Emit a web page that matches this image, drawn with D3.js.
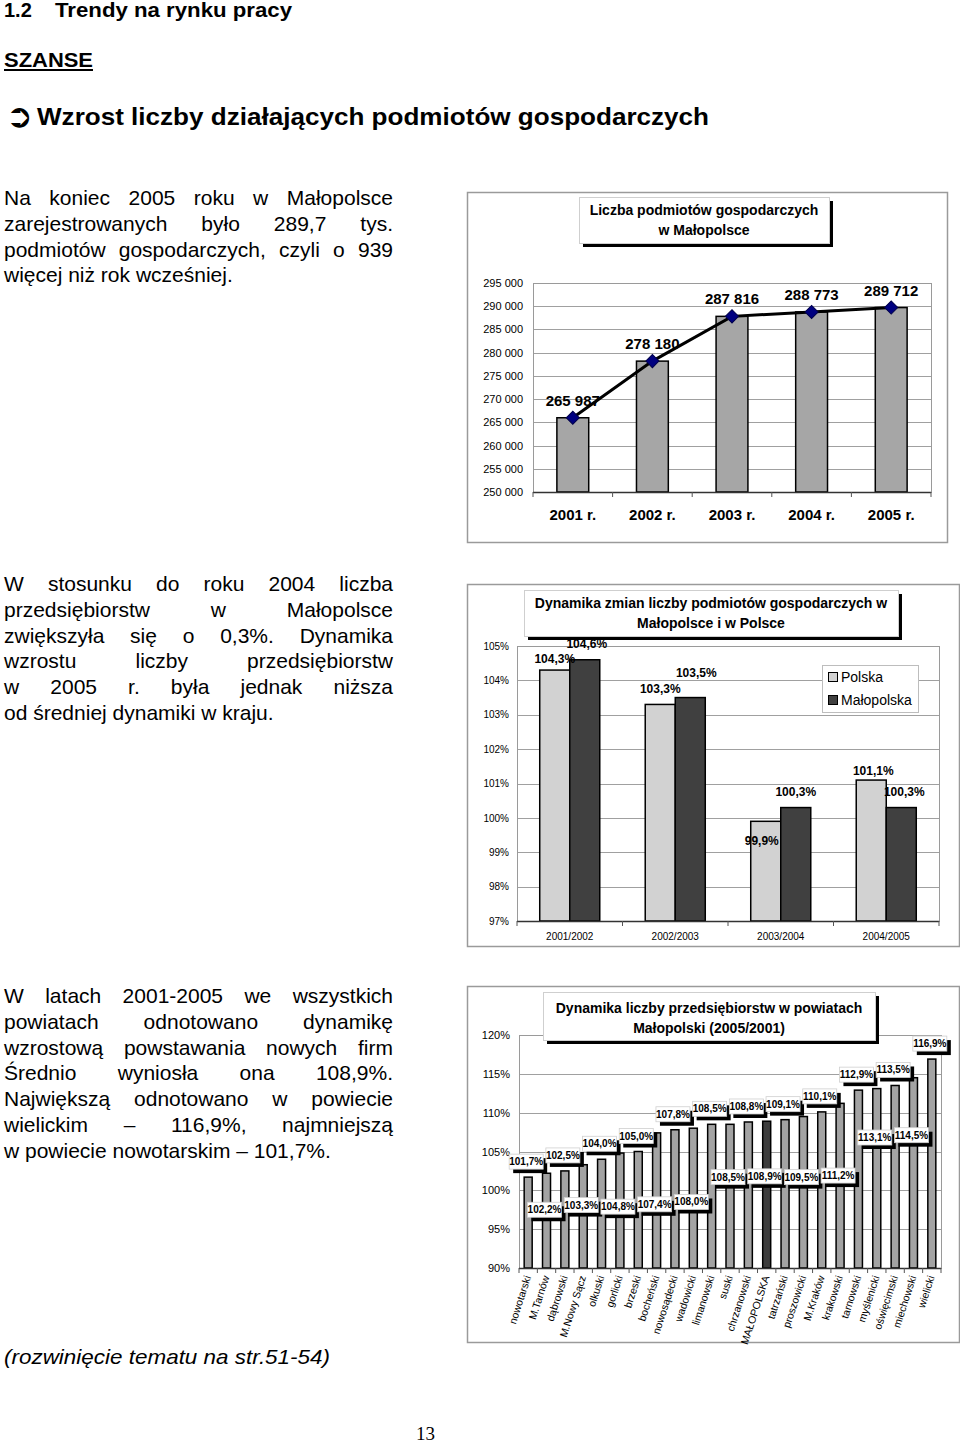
<!DOCTYPE html>
<html>
<head>
<meta charset="utf-8">
<script src="https://cdn.jsdelivr.net/npm/d3@7"></script>
<style>
body { margin: 0; background: #fff; }
#page { position: relative; width: 960px; height: 1444px; overflow: hidden; font-family: "Liberation Sans", Arial, sans-serif; color: #000; }
#page svg { position: absolute; left: 0; top: 0; }
.para { position: absolute; left: 4px; width: 389px; font-size: 21px; line-height: 25.8px; }
.para div { text-align: justify; text-align-last: justify; }
.para div.last { text-align-last: left; }
</style>
</head>
<body>
<div id="page"></div>
<script>
// --- data ---------------------------------------------------------------

// chart 1: liczba podmiotow
var years = ["2001 r.", "2002 r.", "2003 r.", "2004 r.", "2005 r."];
var firms = [265987, 278180, 287816, 288773, 289712];
var firmTicks = [250000, 255000, 260000, 265000, 270000, 275000, 280000, 285000, 290000, 295000];

// chart 2: dynamika Polska / Malopolska
var periods = ["2001/2002", "2002/2003", "2003/2004", "2004/2005"];
var seriesNames = ["Polska", "Małopolska"];
var polska = [104.3, 103.3, 99.9, 101.1];
var malopolska = [104.6, 103.5, 100.3, 100.3];
var pctTicks2 = [97, 98, 99, 100, 101, 102, 103, 104, 105];

// chart 3: powiaty
var powiaty = ["nowotarski", "M.Tarnów", "dąbrowski", "M.Nowy Sącz", "olkuski", "gorlicki", "brzeski",
  "bocheński", "nowosądecki", "wadowicki", "limanowski", "suski", "chrzanowski", "MAŁOPOLSKA",
  "tatrzański", "proszowicki", "M.Kraków", "krakowski", "tarnowski", "myślenicki", "oświęcimski",
  "miechowski", "wielicki"];
var dynamika = [101.7, 102.2, 102.5, 103.3, 104.0, 104.8, 105.0, 107.4, 107.8, 108.0, 108.5, 108.5,
  108.8, 108.9, 109.1, 109.5, 110.1, 111.2, 112.9, 113.1, 113.5, 114.5, 116.9];
var pctTicks3 = [90, 95, 100, 105, 110, 115, 120];

// where excel dropped the lower labels (in % units), odd bars only
var lowLabelAt = [97.5, 98.1, 97.9, 98.2, 98.5, 101.7, 101.8, 101.7, 101.9, 106.8, 107.1];
// label nudges for chart 2 [dx, dy from bar top]
var nudge2 = {
  "Polska": [[0, -11], [0, -15], [-4, 20], [2, -9]],
  "Małopolska": [[2, -16], [6, -25], [0, -16], [3, -16]]
};

// --- text ---------------------------------------------------------------

var para1 = ["Na koniec 2005 roku w Małopolsce", "zarejestrowanych było 289,7 tys.",
  "podmiotów gospodarczych, czyli o 939", "więcej niż rok wcześniej."];
var para2 = ["W stosunku do roku 2004 liczba", "przedsiębiorstw w Małopolsce",
  "zwiększyła się o 0,3%. Dynamika", "wzrostu liczby przedsiębiorstw",
  "w 2005 r. była jednak niższa", "od średniej dynamiki w kraju."];
var para3 = ["W latach 2001-2005 we wszystkich", "powiatach odnotowano dynamikę",
  "wzrostową powstawania nowych firm", "Średnio wyniosła ona 108,9%.",
  "Największą odnotowano w powiecie", "wielickim – 116,9%, najmniejszą",
  "w powiecie nowotarskim – 101,7%."];

var pl = d3.formatLocale({decimal: ",", thousands: " ", grouping: [3], currency: ["", " zł"]});
var fmtInt = pl.format(",d");
var fmtPct1 = function(v) { return pl.format(".1f")(v) + "%"; };
var fmtPct0 = function(v) { return v + "%"; };

var page = d3.select("#page");
var svg = page.append("svg").attr("width", 960).attr("height", 1444);

drawHeader();
addPara(para1, 185);
addPara(para2, 571);
addPara(para3, 983);
drawFirms();
drawDynamics();
drawPowiaty();

function addPara(lines, top) {
  var p = page.append("div").attr("class", "para").style("top", top + "px");
  p.selectAll("div").data(lines).enter().append("div")
    .attr("class", function(d, i) { return i == lines.length - 1 ? "last" : null; })
    .text(function(d) { return d; });
}

function drawHeader() {
  var h = svg.append("g").attr("font-family", "Liberation Sans, Arial, sans-serif").attr("font-weight", "bold");
  h.append("text").attr("x", 4).attr("y", 17).attr("font-size", 20).text("1.2");
  h.append("text").attr("x", 55).attr("y", 17).attr("font-size", 20)
    .attr("textLength", 237).attr("lengthAdjust", "spacingAndGlyphs").text("Trendy na rynku pracy");
  h.append("text").attr("x", 4).attr("y", 67).attr("font-size", 21)
    .attr("textLength", 89).attr("lengthAdjust", "spacingAndGlyphs").text("SZANSE");
  h.append("line").attr("x1", 4).attr("x2", 93).attr("y1", 70).attr("y2", 70)
    .attr("stroke", "#000").attr("stroke-width", 2);
  h.append("text").attr("x", 6).attr("y", 127).attr("font-size", 32)
    .attr("font-family", "DejaVu Sans").text("\u27B2");
  h.append("text").attr("x", 37).attr("y", 125).attr("font-size", 24)
    .attr("textLength", 672).attr("lengthAdjust", "spacingAndGlyphs")
    .text("Wzrost liczby działających podmiotów gospodarczych");

  svg.append("text").attr("x", 4).attr("y", 1364).attr("font-size", 21).attr("font-style", "italic")
    .attr("font-family", "Liberation Sans, Arial, sans-serif")
    .attr("textLength", 326).attr("lengthAdjust", "spacingAndGlyphs")
    .text("(rozwinięcie tematu na str.51-54)");
  svg.append("text").attr("x", 416).attr("y", 1440).attr("font-size", 19)
    .attr("font-family", "Liberation Serif, Times New Roman, serif").text("13");
}

// outer chart frame + title box with the black drop shadow
function chartFrame(x0, y0, x1, y1) {
  var g = svg.append("g").attr("font-family", "Liberation Sans, Arial, sans-serif");
  g.append("rect").attr("x", x0 + 0.5).attr("y", y0 + 0.5).attr("width", x1 - x0).attr("height", y1 - y0)
    .attr("fill", "#fff").attr("stroke", "#9a9a9a").attr("stroke-width", 1.5);
  return g;
}

function titleBox(g, x0, y0, x1, y1, lines, base) {
  g.append("rect").attr("x", x0 + 4).attr("y", y0 + 4).attr("width", x1 - x0).attr("height", y1 - y0).attr("fill", "#000");
  g.append("rect").attr("x", x0 + 0.5).attr("y", y0 + 0.5).attr("width", x1 - x0).attr("height", y1 - y0)
    .attr("fill", "#fff").attr("stroke", "#cfcfcf");
  g.selectAll(null).data(lines).enter().append("text")
    .attr("x", (x0 + x1) / 2).attr("y", function(d, i) { return base + i * 20; })
    .attr("text-anchor", "middle").attr("font-size", 14).attr("font-weight", "bold")
    .text(function(d) { return d; });
}

function gridAndBorder(g, y, ticks, left, right, top, bottom) {
  g.selectAll(null).data(ticks).enter().append("line")
    .attr("x1", left).attr("x2", right)
    .attr("y1", function(d) { return Math.round(y(d)) + 0.5; })
    .attr("y2", function(d) { return Math.round(y(d)) + 0.5; })
    .attr("stroke", "#a0a0a0");
  g.append("rect").attr("x", left + 0.5).attr("y", top + 0.5).attr("width", right - left).attr("height", bottom - top)
    .attr("fill", "none").attr("stroke", "#9a9a9a");
}

function categoryTicks(g, x, bottom) {
  var n = x.domain().length, start = x.range()[0], step = (x.range()[1] - x.range()[0]) / n;
  g.append("line").attr("x1", x.range()[0]).attr("x2", x.range()[1])
    .attr("y1", bottom + 0.5).attr("y2", bottom + 0.5).attr("stroke", "#333").attr("stroke-width", 1.5);
  g.selectAll(null).data(d3.range(n + 1)).enter().append("line")
    .attr("x1", function(k) { return start + k * step; }).attr("x2", function(k) { return start + k * step; })
    .attr("y1", bottom).attr("y2", bottom + 5).attr("stroke", "#555");
}

function leftAxis(g, y, ticks, left, size, fmt, pad) {
  g.append("g").attr("transform", "translate(" + left + ",0)")
    .call(d3.axisLeft(y).tickValues(ticks).tickSize(0).tickPadding(pad).tickFormat(fmt))
    .call(function(a) {
      a.select(".domain").remove();
      a.attr("font-family", "Liberation Sans, Arial, sans-serif").attr("font-size", size);
      a.selectAll("text").attr("fill", "#000");
    });
}

// chart 1 --------------------------------------------------------------
function drawFirms() {
  var g = chartFrame(467, 192, 947, 542);
  var left = 533, right = 931, top = 283, bottom = 492;

  var x = d3.scaleBand().domain(years).range([left, right]).paddingInner(0.6).paddingOuter(0.3);
  var y = d3.scaleLinear().domain([250000, 295000]).range([bottom, top]);

  gridAndBorder(g, y, firmTicks, left, right, top, bottom);
  leftAxis(g, y, firmTicks, left, 11, fmtInt, 10);

  g.selectAll(".bar1").data(firms).enter().append("rect")
    .attr("class", "bar1")
    .attr("x", function(d, i) { return x(years[i]); })
    .attr("y", function(d) { return y(d); })
    .attr("width", x.bandwidth())
    .attr("height", function(d) { return bottom - y(d); })
    .attr("fill", "#a6a6a6").attr("stroke", "#000").attr("stroke-width", 1.5);

  categoryTicks(g, x, bottom);

  g.append("g").attr("transform", "translate(0," + bottom + ")")
    .call(d3.axisBottom(x).tickSize(0).tickPadding(17))
    .call(function(a) {
      a.select(".domain").remove();
      a.attr("font-family", "Liberation Sans, Arial, sans-serif").attr("font-size", 15).attr("font-weight", "bold");
      a.selectAll("text").attr("fill", "#000");
    });

  var cx = function(d, i) { return x(years[i]) + x.bandwidth() / 2; };
  var line = d3.line().x(cx).y(function(d) { return y(d); });
  g.append("path").datum(firms).attr("d", line).attr("fill", "none").attr("stroke", "#000").attr("stroke-width", 3);

  g.selectAll(".mark1").data(firms).enter().append("path")
    .attr("class", "mark1")
    .attr("d", d3.symbol(d3.symbolSquare, 86))
    .attr("transform", function(d, i) { return "translate(" + cx(d, i) + "," + y(d) + ") rotate(45)"; })
    .attr("fill", "#000080").attr("stroke", "#00004a");

  g.selectAll(".lab1").data(firms).enter().append("text")
    .attr("class", "lab1")
    .attr("x", cx).attr("y", function(d) { return y(d) - 12; })
    .attr("text-anchor", "middle").attr("font-size", 15).attr("font-weight", "bold")
    .text(fmtInt);

  titleBox(g, 579, 197, 829, 243, ["Liczba podmiotów gospodarczych", "w Małopolsce"], 215);
}

// chart 2 --------------------------------------------------------------
function drawDynamics() {
  var g = chartFrame(467, 584, 959, 946);
  var left = 517, right = 939, top = 646, bottom = 921;

  var x = d3.scaleBand().domain(periods).range([left, right]).paddingInner(0.431).paddingOuter(0.2155);
  var xs = d3.scaleBand().domain(seriesNames).range([0, x.bandwidth()]);
  var y = d3.scaleLinear().domain([97, 105]).range([bottom, top]);
  var colors = {"Polska": "#d2d2d2", "Małopolska": "#404040"};
  var values = {"Polska": polska, "Małopolska": malopolska};

  gridAndBorder(g, y, pctTicks2, left, right, top, bottom);
  leftAxis(g, y, pctTicks2, left, 10, fmtPct0, 8);

  var rows = [];
  seriesNames.forEach(function(s) {
    values[s].forEach(function(v, i) { rows.push({s: s, i: i, v: v}); });
  });

  g.selectAll(".bar2").data(rows).enter().append("rect")
    .attr("class", "bar2")
    .attr("x", function(d) { return x(periods[d.i]) + xs(d.s); })
    .attr("y", function(d) { return y(d.v); })
    .attr("width", xs.bandwidth())
    .attr("height", function(d) { return bottom - y(d.v); })
    .attr("fill", function(d) { return colors[d.s]; })
    .attr("stroke", "#000").attr("stroke-width", 1.5);

  categoryTicks(g, x, bottom);

  g.append("g").attr("transform", "translate(0," + bottom + ")")
    .call(d3.axisBottom(x).tickSize(0).tickPadding(12))
    .call(function(a) {
      a.select(".domain").remove();
      a.attr("font-family", "Liberation Sans, Arial, sans-serif").attr("font-size", 10);
      a.selectAll("text").attr("fill", "#000");
    });

  g.selectAll(".lab2").data(rows).enter().append("text")
    .attr("class", "lab2")
    .attr("x", function(d) { return x(periods[d.i]) + xs(d.s) + xs.bandwidth() / 2 + nudge2[d.s][d.i][0]; })
    .attr("y", function(d) { return y(d.v) + nudge2[d.s][d.i][1] + 4; })
    .attr("text-anchor", "middle").attr("font-size", 12).attr("font-weight", "bold")
    .text(function(d) { return fmtPct1(d.v); });

  // legend
  var lg = g.append("g");
  lg.append("rect").attr("x", 822.5).attr("y", 665.5).attr("width", 96).attr("height", 47)
    .attr("fill", "#fff").attr("stroke", "#bdbdbd");
  seriesNames.forEach(function(s, i) {
    lg.append("rect").attr("x", 828.5).attr("y", 672.5 + i * 23).attr("width", 9).attr("height", 9)
      .attr("fill", colors[s]).attr("stroke", "#000");
    lg.append("text").attr("x", 841).attr("y", 682 + i * 23).attr("font-size", 14).text(s);
  });

  titleBox(g, 524, 590, 898, 636, ["Dynamika zmian liczby podmiotów gospodarczych w", "Małopolsce i w Polsce"], 608);
}

// chart 3 --------------------------------------------------------------
function drawPowiaty() {
  var g = chartFrame(467, 986, 959, 1342);
  var left = 519, right = 941, top = 1035, bottom = 1268;

  var x = d3.scaleBand().domain(powiaty).range([left, right]).paddingInner(0.564).paddingOuter(0.282);
  var y = d3.scaleLinear().domain([90, 120]).range([bottom, top]);

  gridAndBorder(g, y, pctTicks3, left, right, top, bottom);
  leftAxis(g, y, pctTicks3, left, 11, fmtPct0, 9);

  g.selectAll(".bar3").data(dynamika).enter().append("rect")
    .attr("class", "bar3")
    .attr("x", function(d, i) { return x(powiaty[i]); })
    .attr("y", function(d) { return y(d); })
    .attr("width", x.bandwidth())
    .attr("height", function(d) { return bottom - y(d); })
    .attr("fill", function(d, i) { return powiaty[i] == "MAŁOPOLSKA" ? "#3c3c3c" : "#a3a3a3"; })
    .attr("stroke", "#000").attr("stroke-width", 1.5);

  categoryTicks(g, x, bottom);

  g.append("g").attr("transform", "translate(0," + bottom + ")")
    .call(d3.axisBottom(x).tickSize(0))
    .call(function(a) {
      a.select(".domain").remove();
      a.attr("font-family", "Liberation Sans, Arial, sans-serif").attr("font-size", 10.5);
      a.selectAll("text").attr("fill", "#000")
        .attr("x", 0).attr("y", 0).attr("dy", 0)
        .attr("text-anchor", "end")
        .attr("transform", "translate(3,9) rotate(-72)");
    });

  // boxed value labels, alternating above / below
  var labels = g.selectAll(".lab3").data(dynamika).enter().append("g")
    .attr("class", "lab3")
    .attr("transform", function(d, i) {
      var cx = x(powiaty[i]) + x.bandwidth() / 2 - 2;
      var cy = (i % 2 == 0) ? y(d) - 15.5 : y(lowLabelAt[(i - 1) / 2]);
      return "translate(" + cx + "," + cy + ")";
    });
  labels.append("rect").attr("x", -17 + 4).attr("y", -7.5 + 4).attr("width", 34).attr("height", 15).attr("fill", "#000");
  labels.append("rect").attr("x", -17).attr("y", -7.5).attr("width", 34).attr("height", 15)
    .attr("fill", "#fff").attr("stroke", "#cfcfcf").attr("stroke-width", 0.8);
  labels.append("text").attr("y", 3.5).attr("text-anchor", "middle")
    .attr("font-size", 10).attr("font-weight", "bold")
    .text(fmtPct1);

  titleBox(g, 543, 992, 875, 1040, ["Dynamika liczby przedsiębiorstw w powiatach", "Małopolski (2005/2001)"], 1013);
}
</script>
</body>
</html>
